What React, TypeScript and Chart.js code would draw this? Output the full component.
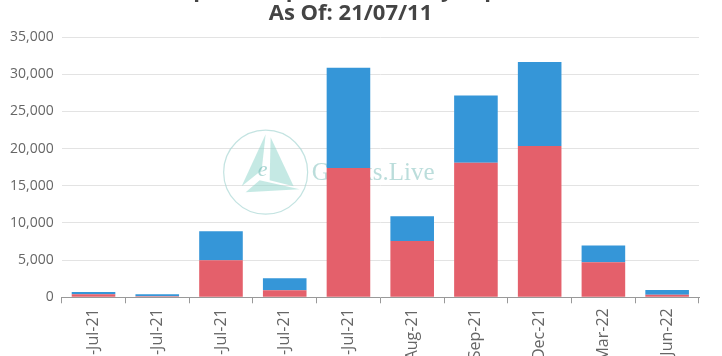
import React, { useEffect, useRef } from 'react';
import { Chart, registerables } from 'chart.js';

Chart.register(...registerables);

const categories = ['12-Jul-21', '13-Jul-21', '16-Jul-21', '23-Jul-21', '30-Jul-21', '27-Aug-21', '24-Sep-21', '31-Dec-21', '25-Mar-22', '24-Jun-22'];
const redSeries = [400, 150, 5000, 950, 17400, 7570, 18100, 20350, 4700, 350];
const blueSeries = [320, 250, 3880, 1620, 13500, 3330, 9050, 11300, 2280, 640];
const titleLines = ['BTC Options Open Interest By Expiration', 'As Of: 21/07/11'];
const yMax = 35000;
const yStep = 5000;

const TOP_CUT = 31;
const CANVAS_H = 421;

const watermark = {
  id: 'watermark',
  beforeDatasetsDraw(chart: any) {
    const { ctx, chartArea } = chart;
    const cx = chartArea.left + 204;
    const cy = chartArea.top + 135;
    ctx.save();
    ctx.strokeStyle = 'rgba(170, 215, 212, 0.7)';
    ctx.lineWidth = 1.2;
    ctx.beginPath();
    ctx.arc(cx, cy, 42, 0, Math.PI * 2);
    ctx.stroke();
    ctx.fillStyle = 'rgba(150, 215, 205, 0.55)';
    const tri = (pts: number[][]) => {
      ctx.beginPath();
      ctx.moveTo(cx + pts[0][0], cy + pts[0][1]);
      for (let i = 1; i < pts.length; i++) ctx.lineTo(cx + pts[i][0], cy + pts[i][1]);
      ctx.closePath();
      ctx.fill();
    };
    tri([[0, -38], [-24, 14], [-4, -2]]);
    tri([[5, -35], [28, 14], [4, 8]]);
    tri([[-20, 20], [34, 17], [-6, 8]]);
    ctx.fillStyle = 'rgba(120, 190, 185, 0.6)';
    ctx.font = 'italic 22px "Liberation Serif"';
    ctx.textAlign = 'center';
    ctx.textBaseline = 'middle';
    ctx.fillText('e', cx - 3, cy - 2);
    ctx.fillStyle = 'rgba(170, 212, 210, 0.8)';
    ctx.font = '25px "Liberation Serif"';
    ctx.textAlign = 'left';
    ctx.textBaseline = 'alphabetic';
    ctx.fillText('Greeks.Live', cx + 46, cy + 8);
    ctx.restore();
  },
};

export default function App() {
  const ref = useRef<HTMLCanvasElement>(null);

  useEffect(() => {
    document.body.style.margin = '0';
    const canvas = ref.current;
    if (!canvas) return;
    const chart = new Chart(canvas, {
      type: 'bar',
      data: {
        labels: categories,
        datasets: [
          { label: 'Calls', data: redSeries, backgroundColor: '#e4606b', barPercentage: 0.855, categoryPercentage: 0.8 },
          { label: 'Puts', data: blueSeries, backgroundColor: '#3596d8', barPercentage: 0.855, categoryPercentage: 0.8 },
        ],
      },
      options: {
        responsive: false,
        animation: false,
        layout: { padding: { left: 2, right: 23, top: 0, bottom: 0 } },
        plugins: {
          legend: { display: false },
          tooltip: { enabled: false },
          title: {
            display: true,
            text: titleLines,
            color: '#444',
            font: { family: '"Open Sans"', size: 22, weight: 'bold', lineHeight: 1.05 },
            padding: { top: 10, bottom: 12 },
          },
        },
        scales: {
          x: {
            stacked: true,
            grid: { display: true, drawOnChartArea: false, drawTicks: true, tickLength: 6, color: '#999', offset: true },
            border: { display: true, color: '#999' },
            ticks: {
              color: '#666',
              font: { family: '"Open Sans"', size: 16 },
              minRotation: 90,
              maxRotation: 90,
              padding: 5,
              autoSkip: false,
            },
          },
          y: {
            stacked: true,
            min: 0,
            max: yMax,
            grid: { color: '#e3e3e3', drawTicks: false },
            border: { display: false },
            ticks: {
              stepSize: yStep,
              color: '#666',
              font: { family: '"Open Sans"', size: 14 },
              padding: 8,
            },
          },
        },
      },
      plugins: [watermark],
    });
    return () => chart.destroy();
  }, []);

  return (
    <div style={{ position: 'fixed', left: 0, top: 0, width: 722, height: 356, overflow: 'hidden', background: '#fff' }}>
      <canvas
        ref={ref}
        width={722}
        height={CANVAS_H}
        style={{ position: 'absolute', left: 0, top: -TOP_CUT, width: 722, height: CANVAS_H }}
      />
    </div>
  );
}
